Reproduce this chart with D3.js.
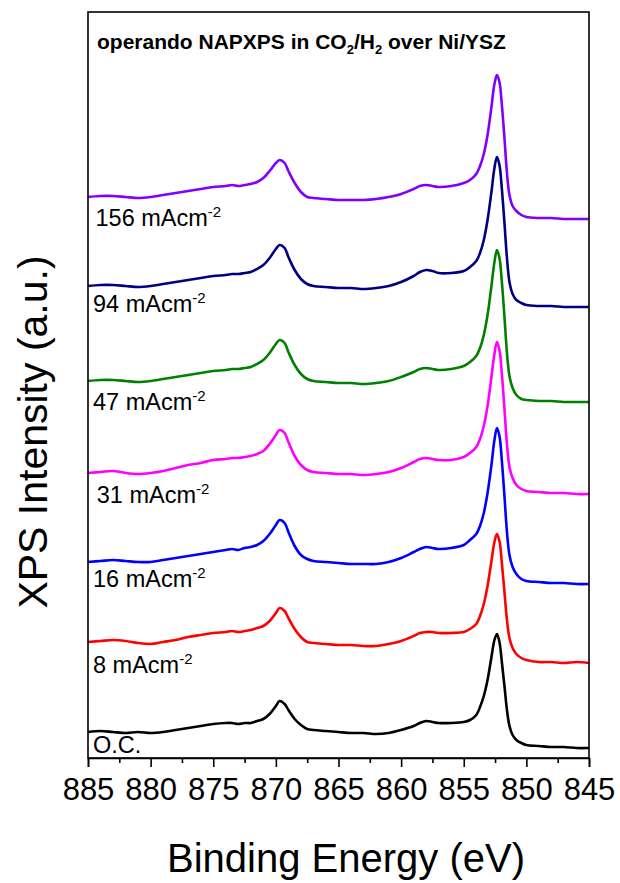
<!DOCTYPE html>
<html>
<head>
<meta charset="utf-8">
<script src="https://cdn.jsdelivr.net/npm/d3@7"></script>
<style>
  html, body { margin: 0; padding: 0; background: #fff; }
  svg { display: block; }
  text { font-family: Arial, "Liberation Sans", sans-serif; fill: #000; }
</style>
</head>
<body>
<svg id="chart" width="620" height="883"></svg>
<script>
// Binding energies (eV), shared by all spectra
const energy = [885, 884, 883, 882, 881, 880, 879, 878, 877, 876, 875, 874, 873.5, 873, 872.5, 872, 871.5, 871, 870.5, 870, 869.7, 869.3, 869, 868.5, 868, 867.5, 867, 866, 865, 864, 863, 862, 861, 860, 859, 858.5, 858, 857.5, 857, 856, 855, 854.5, 854, 853.7, 853.4, 853.1, 852.8, 852.55, 852.35, 852.15, 851.95, 851.75, 851.55, 851.35, 851.1, 850.8, 850.4, 850, 849, 848, 847, 846, 845];

// Stacked intensities (a.u., offset already included)
const seriesOC = [26, 27, 26, 25, 26, 25, 26, 28, 30, 32, 34, 35, 35, 34, 35, 35, 37, 39, 44, 52, 57, 54, 48, 39, 33, 29, 28, 27, 26, 25, 25, 24, 25, 28, 32, 35, 37, 36, 35, 35, 36, 38, 43, 51, 62, 78, 100, 118, 124, 116, 95, 72, 48, 32, 23, 18, 15, 13, 12, 11, 11, 10, 10];
const series8 = [116, 117, 118, 117, 115, 114, 116, 118, 121, 123, 125, 126, 127, 126, 127, 128, 130, 132, 137, 145, 150, 147, 140, 129, 121, 116, 115, 114, 113, 113, 112, 112, 114, 117, 122, 125, 126, 126, 125, 125, 126, 129, 134, 142, 154, 172, 196, 216, 224, 217, 194, 166, 138, 120, 110, 104, 100, 98, 96, 96, 95, 96, 95];
const series16 = [196, 197, 198, 197, 196, 196, 198, 200, 202, 204, 206, 208, 209, 208, 210, 211, 213, 217, 224, 233, 238, 235, 226, 212, 203, 199, 197, 196, 195, 194, 194, 194, 196, 200, 206, 209, 211, 210, 209, 210, 213, 218, 224, 232, 245, 265, 292, 318, 330, 322, 296, 262, 226, 203, 191, 184, 179, 177, 176, 175, 175, 174, 174];
const series31 = [285, 286, 287, 285, 284, 285, 287, 290, 293, 295, 298, 299, 300, 300, 301, 302, 304, 307, 314, 323, 328, 325, 316, 302, 293, 288, 286, 285, 284, 284, 283, 284, 286, 290, 296, 299, 300, 299, 298, 298, 301, 305, 311, 319, 332, 352, 380, 404, 416, 408, 383, 349, 314, 291, 280, 273, 269, 267, 266, 265, 265, 264, 264];
const series47 = [377, 378, 378, 377, 376, 377, 379, 381, 383, 385, 387, 388, 389, 389, 390, 391, 394, 398, 405, 414, 418, 415, 406, 393, 384, 379, 377, 376, 375, 375, 374, 375, 377, 381, 386, 389, 390, 389, 388, 389, 392, 396, 402, 410, 423, 443, 471, 496, 508, 500, 475, 441, 405, 382, 370, 363, 359, 358, 357, 357, 356, 356, 356];
const series94 = [472, 473, 473, 472, 471, 472, 474, 476, 478, 480, 482, 483, 484, 484, 485, 486, 489, 493, 500, 509, 513, 510, 501, 488, 479, 474, 472, 471, 470, 470, 469, 470, 472, 476, 482, 486, 488, 487, 485, 485, 487, 491, 497, 505, 518, 538, 565, 590, 601, 593, 568, 535, 500, 476, 464, 458, 455, 453, 452, 452, 451, 451, 451];
const series156 = [561, 562, 562, 561, 560, 561, 563, 565, 567, 569, 571, 572, 573, 572, 573, 574, 576, 580, 587, 595, 598, 595, 587, 575, 566, 561, 560, 559, 558, 558, 558, 559, 561, 564, 569, 572, 573, 572, 571, 572, 575, 578, 584, 592, 604, 623, 650, 674, 683, 676, 652, 620, 585, 563, 552, 547, 543, 541, 540, 540, 539, 539, 539];

// Series names (labels) and line colours
const labels = ["O.C.", "8 mAcm", "16 mAcm", "31 mAcm", "47 mAcm", "94 mAcm", "156 mAcm"];
const labelSup = ["", "-2", "-2", "-2", "-2", "-2", "-2"];
const colors = ["#000000", "#ff0000", "#0000ff", "#ff00ff", "#008000", "#000080", "#8000ff"];
const allSeries = [seriesOC, series8, series16, series31, series47, series94, series156];
// Label baseline intensity anchors (a.u.)
const labelLevels = [5, 85, 171, 255, 348, 446, 532];
const labelEnergy = [884.6, 884.6, 884.6, 884.3, 884.6, 884.6, 884.4];

// X ticks
const majorTicks = [885, 880, 875, 870, 865, 860, 855, 850, 845];
const minorTicks = [882.5, 877.5, 872.5, 867.5, 862.5, 857.5, 852.5, 847.5];

const title = { a: "operando NAPXPS in CO", s1: "2", b: "/H", s2: "2", c: " over Ni/YSZ" };
const xTitle = "Binding Energy (eV)";
const yTitle = "XPS Intensity (a.u.)";

const svg = d3.select("#chart");
const mLeft = 88, mRight = 589, mTop = 12, mBottom = 758;

const x = d3.scaleLinear().domain([885, 845]).range([mLeft, mRight]);
const y = d3.scaleLinear().domain([0, 746]).range([mBottom, mTop]);

const line = d3.line()
  .x(d => x(d[0]))
  .y(d => y(d[1]))
  .curve(d3.curveCatmullRom.alpha(0.5));

// spectra
allSeries.forEach((vals, i) => {
  const pts = energy.map((e, k) => [e, vals[k]]);
  svg.append("path")
    .datum(pts)
    .attr("d", line)
    .attr("fill", "none")
    .attr("stroke", colors[i])
    .attr("stroke-width", 2.6)
    .attr("stroke-linejoin", "round");
});

// labels
labels.forEach((lab, i) => {
  const t = svg.append("text")
    .attr("x", x(labelEnergy[i]))
    .attr("y", y(labelLevels[i]))
    .attr("font-size", 23.5)
    .text(lab);
  if (labelSup[i]) {
    t.append("tspan").attr("dy", -9).attr("font-size", 15).text(labelSup[i]);
  }
});

// frame
svg.append("rect")
  .attr("x", mLeft).attr("y", mTop)
  .attr("width", mRight - mLeft).attr("height", mBottom - mTop)
  .attr("fill", "none").attr("stroke", "#000").attr("stroke-width", 1.6);

// x axis major
const xAxis = d3.axisBottom(x).tickValues(majorTicks).tickSize(9).tickFormat(d3.format("d"));
const gx = svg.append("g").attr("transform", `translate(0,${mBottom})`).call(xAxis);
gx.select(".domain").attr("stroke-width", 1.6);
gx.selectAll(".tick line").attr("stroke-width", 1.6);
gx.selectAll(".tick text")
  .attr("dy", null).attr("y", 42)
  .attr("font-size", 31)
  .attr("font-family", "Arial, 'Liberation Sans', sans-serif");
// x axis minor
const xMinor = d3.axisBottom(x).tickValues(minorTicks).tickSize(5).tickFormat("");
const gm = svg.append("g").attr("transform", `translate(0,${mBottom})`).call(xMinor);
gm.select(".domain").remove();
gm.selectAll(".tick line").attr("stroke-width", 1.6);

// title inside plot
const tt = svg.append("text").attr("x", 97).attr("y", 49)
  .attr("font-size", 21).attr("font-weight", "bold");
tt.append("tspan").text(title.a);
tt.append("tspan").attr("font-size", 13).attr("dy", 5).text(title.s1);
tt.append("tspan").attr("dy", -5).text(title.b);
tt.append("tspan").attr("font-size", 13).attr("dy", 5).text(title.s2);
tt.append("tspan").attr("dy", -5).text(title.c);

// axis titles
svg.append("text")
  .attr("x", 346).attr("y", 872)
  .attr("text-anchor", "middle")
  .attr("font-size", 40)
  .text(xTitle);

svg.append("text")
  .attr("transform", "translate(47,432) rotate(-90)")
  .attr("text-anchor", "middle")
  .attr("font-size", 41)
  .text(yTitle);
</script>
</body>
</html>
